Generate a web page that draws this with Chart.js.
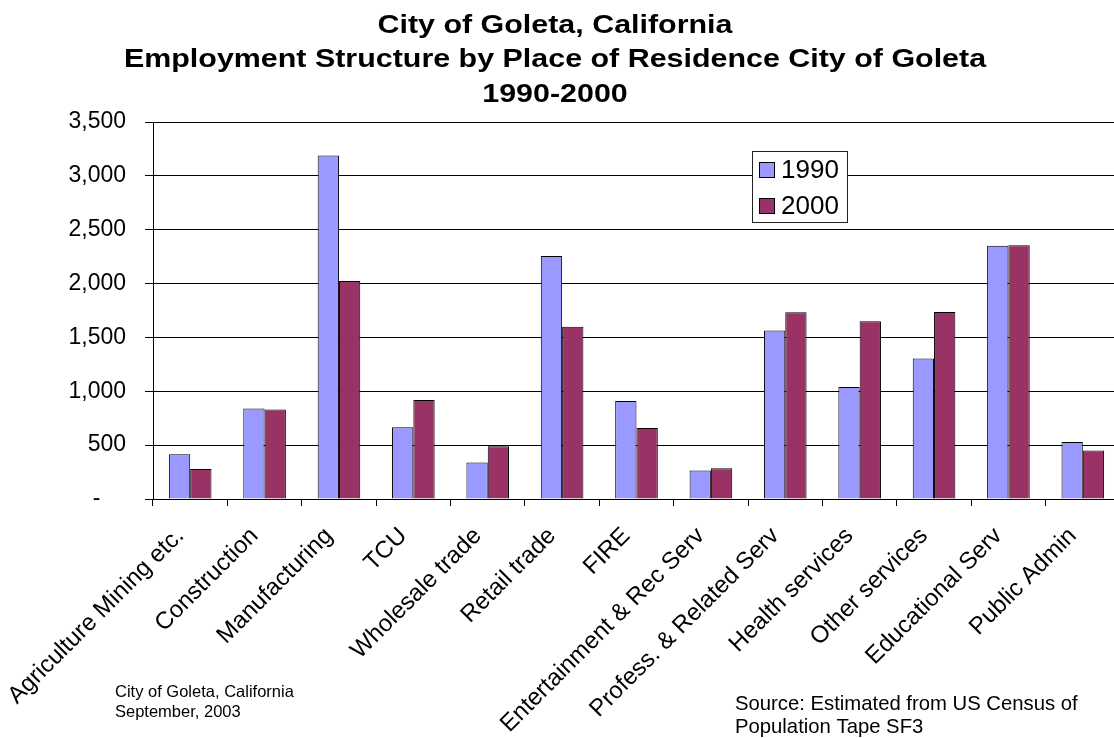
<!DOCTYPE html>
<html>
<head>
<meta charset="utf-8">
<title>Employment Structure by Place of Residence - City of Goleta</title>
<script src="https://cdn.jsdelivr.net/npm/chart.js@4.4.1/dist/chart.umd.min.js"></script>
<style>
  html, body { margin: 0; padding: 0; background: #fff; overflow: hidden; }
  #chart { display: block; }
</style>
</head>
<body>
<canvas id="chart" width="1122" height="738"></canvas>
<script>
const FONT = "Arial, 'Liberation Sans', sans-serif";

const categories = [
  'Agriculture Mining etc.', 'Construction', 'Manufacturing', 'TCU',
  'Wholesale trade', 'Retail trade', 'FIRE', 'Entertainment & Rec Serv',
  'Profess. & Related Serv', 'Health services', 'Other services',
  'Educational Serv', 'Public Admin'
];
const years = ['1990', '2000'];
const jobs1990 = [415, 840, 3190, 665, 340, 2255, 910, 265, 1565, 1040, 1305, 2350, 530];
const jobs2000 = [278, 832, 2025, 918, 490, 1598, 658, 285, 1733, 1650, 1735, 2355, 450];
const yTicks = [0, 500, 1000, 1500, 2000, 2500, 3000, 3500];

const titleLines = [
  'City of Goleta, California',
  'Employment Structure by Place of Residence City of Goleta',
  '1990-2000'
];
const noteLeft = ['City of Goleta, California', 'September, 2003'];
const noteSource = ['Source: Estimated from US Census of', 'Population Tape SF3'];

// title, boxed legend inside the plot and the two footnotes
const extras = {
  id: 'extras',
  afterDraw(chart) {
    const ctx = chart.ctx;
    const area = chart.chartArea;
    ctx.save();

    // bold title, set wide: three centred lines
    const sx = 1.17;
    ctx.save();
    ctx.scale(sx, 1);
    ctx.fillStyle = '#000';
    ctx.font = 'bold 26px ' + FONT;
    ctx.textAlign = 'center';
    ctx.textBaseline = 'alphabetic';
    titleLines.forEach((t, i) => ctx.fillText(t, 555 / sx, 33 + i * 34.3));
    ctx.restore();

    const lx = area.left + 599, ly = area.top + 29;
    ctx.fillStyle = '#fff';
    ctx.fillRect(lx, ly, 96, 72);
    ctx.strokeStyle = '#222';
    ctx.lineWidth = 1;
    ctx.strokeRect(lx + 0.5, ly + 0.5, 95, 71);
    ctx.font = '26px ' + FONT;
    ctx.textBaseline = 'middle';
    chart.data.datasets.forEach((ds, i) => {
      const cy = ly + 19 + i * 36;
      ctx.fillStyle = ds.backgroundColor;
      ctx.fillRect(lx + 7, cy - 8, 16, 16);
      ctx.strokeStyle = '#000';
      ctx.strokeRect(lx + 7.5, cy - 7.5, 15, 15);
      ctx.fillStyle = '#000';
      ctx.fillText(ds.label, lx + 29, cy + 1);
    });

    ctx.textBaseline = 'alphabetic';
    ctx.font = '16.5px ' + FONT;
    noteLeft.forEach((t, i) => ctx.fillText(t, 115, 697 + i * 20));
    ctx.font = '20.3px ' + FONT;
    noteSource.forEach((t, i) => ctx.fillText(t, 735, 710 + i * 23));
    ctx.restore();
  }
};

new Chart(document.getElementById('chart'), {
  type: 'bar',
  data: {
    labels: categories,
    datasets: [
      { label: years[0], data: jobs1990, backgroundColor: '#9999ff' },
      { label: years[1], data: jobs2000, backgroundColor: '#993366' }
    ]
  },
  options: {
    responsive: false,
    animation: false,
    layout: { padding: { top: 122, right: 2, bottom: 0, left: 0 } },
    datasets: {
      bar: {
        borderColor: '#000',
        borderWidth: 1,
        categoryPercentage: 0.573,
        barPercentage: 1
      }
    },
    plugins: {
      legend: { display: false },
      tooltip: { enabled: false },
      title: { display: false }
    },
    scales: {
      x: {
        grid: { drawOnChartArea: false, offset: true, color: '#000', tickLength: 7 },
        border: { color: '#000', width: 1 },
        ticks: {
          color: '#000',
          font: { family: FONT, size: 24 },
          minRotation: 45,
          maxRotation: 45,
          autoSkip: false,
          padding: 16,
          labelOffset: -10
        },
        afterFit(scale) { scale.height = 239; }
      },
      y: {
        min: 0,
        max: 3500,
        afterBuildTicks(scale) { scale.ticks = yTicks.map(v => ({ value: v })); },
        grid: { color: '#000', lineWidth: 1, tickLength: 8 },
        border: { color: '#000', width: 1 },
        ticks: {
          color: '#000',
          font: { family: FONT, size: 23 },
          padding: 19,
          callback: v => v === 0 ? '-    ' : v.toLocaleString('en-US')
        },
        afterFit(scale) { scale.width = 153; }
      }
    }
  },
  plugins: [extras]
});
</script>
</body>
</html>
